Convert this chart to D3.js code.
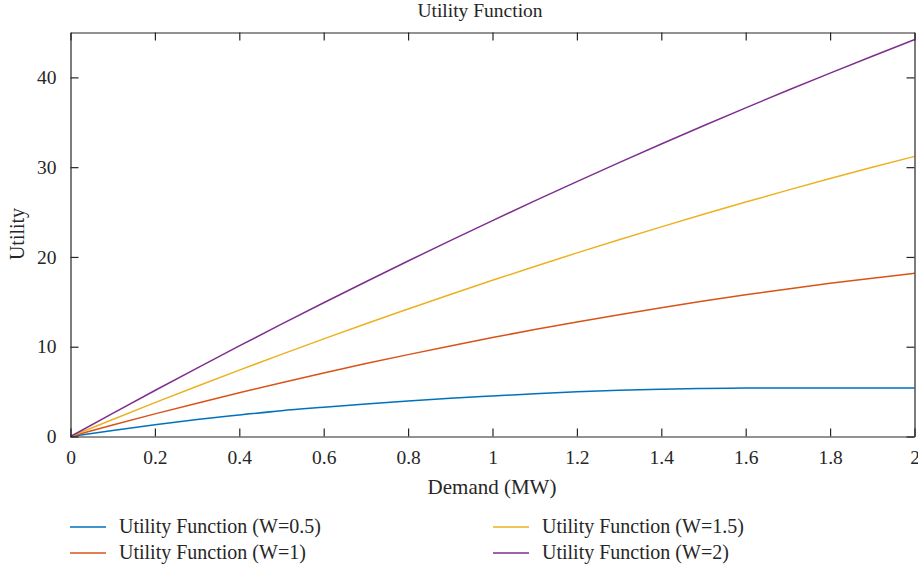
<!DOCTYPE html>
<html>
<head>
<meta charset="utf-8">
<script src="https://cdn.jsdelivr.net/npm/d3@7"></script>
<style>
  html, body { margin: 0; padding: 0; background: #fff; }
  svg text { font-family: "Liberation Serif", "DejaVu Serif", serif; fill: #262626; }
</style>
</head>
<body>
<svg id="chart" width="918" height="572"></svg>
<script>
// Demand grid (MW)
const demand = [0, 0.1, 0.2, 0.3, 0.4, 0.5, 0.6, 0.7, 0.8, 0.9, 1.0,
                1.1, 1.2, 1.3, 1.4, 1.5, 1.6, 1.7, 1.8, 1.9, 2.0];

// Utility for each willingness parameter W
const utilW05 = [0, 0.68, 1.32, 1.90, 2.40, 2.88, 3.26, 3.62, 3.96, 4.26, 4.52,
                 4.76, 4.98, 5.15, 5.27, 5.35, 5.39, 5.41, 5.41, 5.41, 5.41];
const utilW1  = [0, 1.28, 2.52, 3.71, 4.87, 5.99, 7.08, 8.12, 9.12, 10.09, 11.02,
                 11.91, 12.76, 13.57, 14.35, 15.08, 15.78, 16.44, 17.06, 17.64, 18.18];
const utilW15 = [0, 1.90, 3.77, 5.60, 7.39, 9.15, 10.87, 12.56, 14.20, 15.82, 17.40,
                 18.94, 20.45, 21.92, 23.35, 24.75, 26.11, 27.44, 28.73, 29.98, 31.20];
const utilW2  = [0, 2.58, 5.12, 7.62, 10.09, 12.51, 14.90, 17.24, 19.55, 21.82, 24.05,
                 26.24, 28.39, 30.50, 32.58, 34.61, 36.61, 38.56, 40.48, 42.36, 44.20];

const seriesNames = ["Utility Function (W=0.5)", "Utility Function (W=1)",
                     "Utility Function (W=1.5)", "Utility Function (W=2)"];
const seriesColors = ["#0072BD", "#D95319", "#EDB120", "#7E2F8E"];

const xTicks = [0, 0.2, 0.4, 0.6, 0.8, 1, 1.2, 1.4, 1.6, 1.8, 2];
const yTicks = [0, 10, 20, 30, 40];

const seriesValues = [utilW05, utilW1, utilW15, utilW2];

const svg = d3.select("#chart");
const plot = { left: 70.5, right: 914.5, top: 32.5, bottom: 436.5 };

const x = d3.scaleLinear().domain([0, 2]).range([plot.left, plot.right]);
const y = d3.scaleLinear().domain([0, 45]).range([plot.bottom, plot.top]);

const axisColor = "#262626";
const tickLen = 8;

// Curves
const line = d3.line().x(d => x(d[0])).y(d => y(d[1])).curve(d3.curveMonotoneX);
seriesValues.forEach((vals, i) => {
  svg.append("path")
    .datum(demand.map((d, j) => [d, vals[j]]))
    .attr("fill", "none")
    .attr("stroke", seriesColors[i])
    .attr("stroke-width", 1.5)
    .attr("d", line);
});

// Axes: ticks point inward, mirrored on top/right
const fmt = d => String(d);
const bottomAxis = d3.axisBottom(x).tickValues(xTicks).tickFormat(fmt).tickSizeInner(-tickLen).tickSizeOuter(0).tickPadding(14);
const topAxis = d3.axisTop(x).tickValues(xTicks).tickFormat("").tickSizeInner(-tickLen).tickSizeOuter(0);
const leftAxis = d3.axisLeft(y).tickValues(yTicks).tickFormat(fmt).tickSizeInner(-tickLen).tickSizeOuter(0).tickPadding(14);
const rightAxis = d3.axisRight(y).tickValues(yTicks).tickFormat("").tickSizeInner(-tickLen).tickSizeOuter(0);

function styleAxis(g) {
  g.selectAll("path.domain").attr("stroke", axisColor).attr("stroke-width", 1.2);
  g.selectAll(".tick line").attr("stroke", axisColor).attr("stroke-width", 1.2);
  g.selectAll(".tick text").attr("font-family", "Liberation Serif, DejaVu Serif, serif")
    .attr("font-size", 19.5).attr("fill", axisColor);
}

svg.append("g").attr("transform", `translate(0,${plot.bottom})`).call(bottomAxis).call(styleAxis);
svg.append("g").attr("transform", `translate(0,${plot.top})`).call(topAxis).call(styleAxis);
svg.append("g").attr("transform", `translate(${plot.left},0)`).call(leftAxis).call(styleAxis);
svg.append("g").attr("transform", `translate(${plot.right},0)`).call(rightAxis).call(styleAxis);

// Title and axis labels
svg.append("text").attr("x", 480).attr("y", 17).attr("text-anchor", "middle")
  .attr("font-size", 19.5).text("Utility Function");
svg.append("text").attr("x", 492).attr("y", 494).attr("text-anchor", "middle")
  .attr("font-size", 21).text("Demand (MW)");
svg.append("text").attr("transform", "translate(24,234) rotate(-90)").attr("text-anchor", "middle")
  .attr("font-size", 20).text("Utility");

// Legend: two columns, two rows
const legendPos = [
  { lx: 70, ty: 527 }, { lx: 70, ty: 553 },
  { lx: 493, ty: 527 }, { lx: 493, ty: 553 }
];
seriesNames.forEach((name, i) => {
  const p = legendPos[i];
  const g = svg.append("g");
  g.append("line").attr("x1", p.lx).attr("x2", p.lx + 36).attr("y1", p.ty).attr("y2", p.ty)
    .attr("stroke", seriesColors[i]).attr("stroke-width", 1.5);
  g.append("text").attr("x", p.lx + 49).attr("y", p.ty + 6).attr("font-size", 20).text(name);
});
</script>
</body>
</html>
